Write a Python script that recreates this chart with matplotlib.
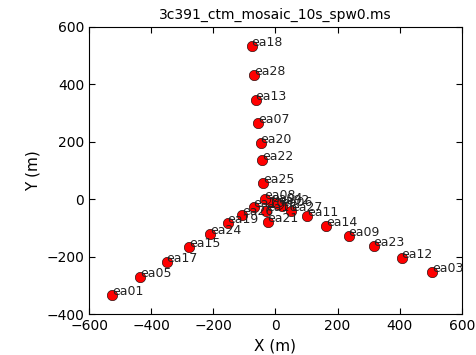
import matplotlib
matplotlib.use("Agg")
import matplotlib.pyplot as plt

names = ["ea01", "ea05", "ea17", "ea15", "ea24", "ea19", "ea26", "ea10",
         "ea16", "ea04", "ea06", "ea02", "ea08", "ea21", "ea27", "ea11",
         "ea14", "ea09", "ea23", "ea12", "ea03",
         "ea25", "ea22", "ea20", "ea07", "ea13", "ea28", "ea18"]
xs = [-526, -436, -351, -277, -211, -154, -108, -70,
      -31, -12, 20, 9, -35, -25, 50, 102,
      164, 236, 316, 406, 505,
      -39, -42, -48, -55, -64, -68, -77]
ys = [-332, -272, -218, -166, -122, -83, -53, -27,
      -42, -10, -25, -15, 0, -79, -42, -59,
      -92, -127, -161, -206, -253,
      56, 136, 195, 265, 345, 432, 533]


def main():
    fig = plt.figure(figsize=(4.77, 3.55), dpi=100)
    ax = fig.add_axes([0.187, 0.115, 0.781, 0.809])

    ax.plot(xs, ys, 'o', color='red', markeredgecolor='black',
            markeredgewidth=0.4, markersize=7.5)
    for (n, x, y) in zip(names, xs, ys):
        ax.text(x, y, n, fontsize=9, ha='left', va='baseline',
                color='#222222')

    ax.set_xlim([-600, 600])
    ax.set_ylim([-400, 600])
    ax.set_xticks(range(-600, 601, 200))
    ax.set_yticks(range(-400, 601, 200))
    ax.tick_params(direction='in', top=True, right=True, labelsize=10,
                   length=4)
    ax.set_xlabel("X (m)", fontsize=11)
    ax.set_ylabel("Y (m)", fontsize=11)
    ax.set_title("3c391_ctm_mosaic_10s_spw0.ms", fontsize=10)
    fig.savefig("out.png", dpi=100)


if __name__ == "__main__":
    main()
